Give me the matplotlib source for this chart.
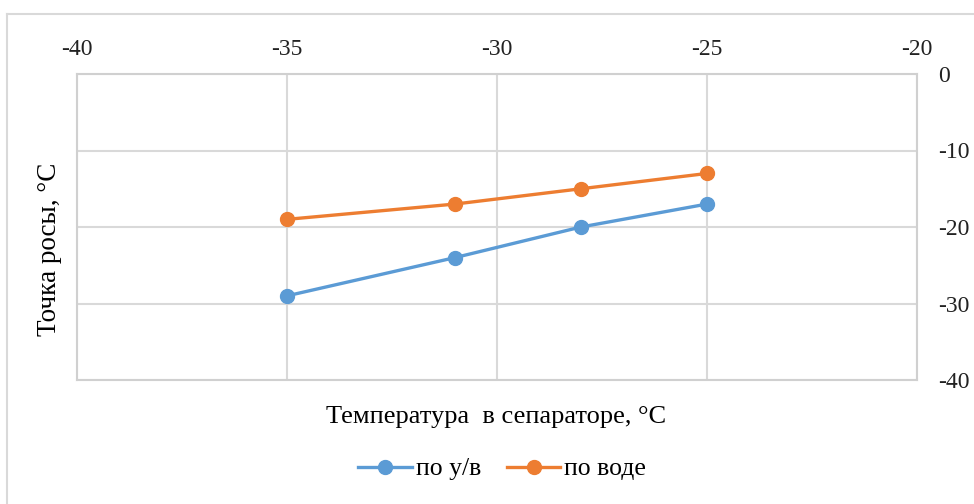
import matplotlib.pyplot as plt
from matplotlib.lines import Line2D

# температура в сепараторе и точка росы
temp_sep = [-35, -31, -28, -25]
dew_hc = [-29, -24, -20, -17]      # по у/в
dew_water = [-19, -17, -15, -13]   # по воде

x_ticks = [-40, -35, -30, -25, -20]
y_ticks = [0, -10, -20, -30, -40]

plt.rcParams['font.family'] = ['Liberation Serif', 'DejaVu Serif']
plt.rcParams['axes.unicode_minus'] = False

fig = plt.figure(figsize=(9.74, 5.04), dpi=100)
ax = fig.add_axes([77 / 974, 1 - 380 / 504, 840 / 974, 306 / 504])

ax.plot(temp_sep, dew_hc, color='#5B9BD5', lw=2.4, marker='o', ms=10, label='по у/в', zorder=3)
ax.plot(temp_sep, dew_water, color='#ED7D31', lw=2.4, marker='o', ms=10, label='по воде', zorder=3)

ax.set_xlim(-40, -20)
ax.set_ylim(-40, 0)
ax.set_xticks(x_ticks)
ax.set_yticks(y_ticks)
ax.xaxis.tick_top()
ax.yaxis.tick_right()
ax.tick_params(length=0, labelsize=17, colors='#222222')
ax.tick_params(axis='x', pad=10)
ax.tick_params(axis='y', pad=15)
for lbl in ax.get_yticklabels():
    lbl.set_ha('left')
ax.grid(color='#d9d9d9', lw=1.5)
ax.set_axisbelow(True)
for s in ax.spines.values():
    s.set_color('#d0d0d0')
    s.set_linewidth(1.5)

fig.text(496 / 974, 1 - 417 / 504, 'Температура  в сепараторе, °C', ha='center', va='center', fontsize=19)
fig.text(50 / 974, 1 - 249 / 504, 'Точка росы, °C', ha='center', va='center', rotation=90, fontsize=19.5)

fig.legend(handles=ax.get_lines(), loc='center', bbox_to_anchor=(502 / 974, 1 - 469 / 504),
           ncol=2, frameon=False, fontsize=18.5, handlelength=2.1, columnspacing=1.0, handletextpad=0.15)

# рамка диаграммы
fig.add_artist(Line2D([7 / 974, 1], [1 - 14 / 504] * 2, color='#d9d9d9', lw=1.5))
fig.add_artist(Line2D([7 / 974] * 2, [0, 1 - 14 / 504], color='#d9d9d9', lw=1.5))

fig.savefig('out.png', dpi=100)
